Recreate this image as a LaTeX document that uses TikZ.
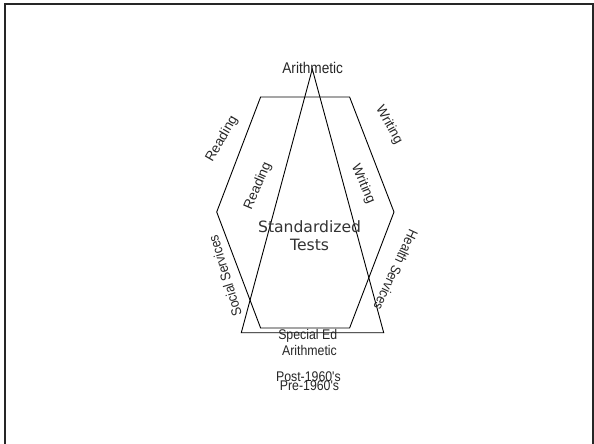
\documentclass[tikz,border=0pt]{standalone}
\usepackage{fontspec}
\setmainfont{Liberation Sans}
\newfontfamily\narrowfont[FakeStretch=0.88]{Liberation Sans}
\newfontfamily\verdfont{DejaVu Sans}
\begin{document}
\begin{tikzpicture}[x=1pt,y=-1pt,
  lbl/.style={inner sep=0pt, font=\fontsize{13.5}{14}\selectfont, text=black!85},
  nlbl/.style={inner sep=0pt, font=\narrowfont\fontsize{14}{14}\selectfont, text=black!85},
  shp/.style={draw=black, line width=0.9pt, line join=miter}]
\useasboundingbox (0,0) rectangle (594,444);
\fill[white] (0,0) rectangle (594,444);
% frame
\draw[line width=2pt, black!85] (5,444) -- (5,4) -- (593,4) -- (593,444);
% hexagon
\coordinate (h1) at (260.6,97);
\coordinate (h2) at (349.6,97);
\coordinate (h3) at (394,212);
\coordinate (h4) at (349.6,328);
\coordinate (h5) at (260.6,328);
\coordinate (h6) at (216.7,212);
\draw[shp] (h1) -- (h2) -- (h3) -- (h4) -- (h5) -- (h6) -- cycle;
% triangle
\coordinate (t1) at (312.3,69);
\coordinate (t2) at (383.7,332.7);
\coordinate (t3) at (241.3,332.7);
\draw[shp] (t1) -- (t2) -- (t3) -- cycle;
% labels
\node[nlbl, anchor=base, font=\narrowfont\fontsize{15.5}{16}\selectfont] (arTop) at (312.7,73.3) {Arithmetic};
\node[inner sep=0pt, align=center, font=\verdfont\fontsize{15.6}{18}\selectfont, text=black!80] (std) at (309.6,236) {Standardized\\Tests};
\node[lbl, rotate=60] (readO) at (222,139) {Reading};
\node[lbl, rotate=67] (readI) at (258,186) {Reading};
\node[lbl, rotate=-61] (writeO) at (389,125) {Writing};
\node[lbl, rotate=-67] (writeI) at (363,184) {Writing};
\node[nlbl, rotate=107] (social) at (225,276) {Social Services};
\node[nlbl, rotate=245] (health) at (396,270) {Health Services};
\node[nlbl, anchor=base] (sped) at (307.7,339.5) {Special Ed};
\node[nlbl, anchor=base] (arBot) at (309.5,355) {Arithmetic};
\node[nlbl, anchor=base] (post) at (308.4,381.7) {Post-1960's};
\node[nlbl, anchor=base] (pre) at (309.5,390.5) {Pre-1960's};
\end{tikzpicture}
\end{document}
